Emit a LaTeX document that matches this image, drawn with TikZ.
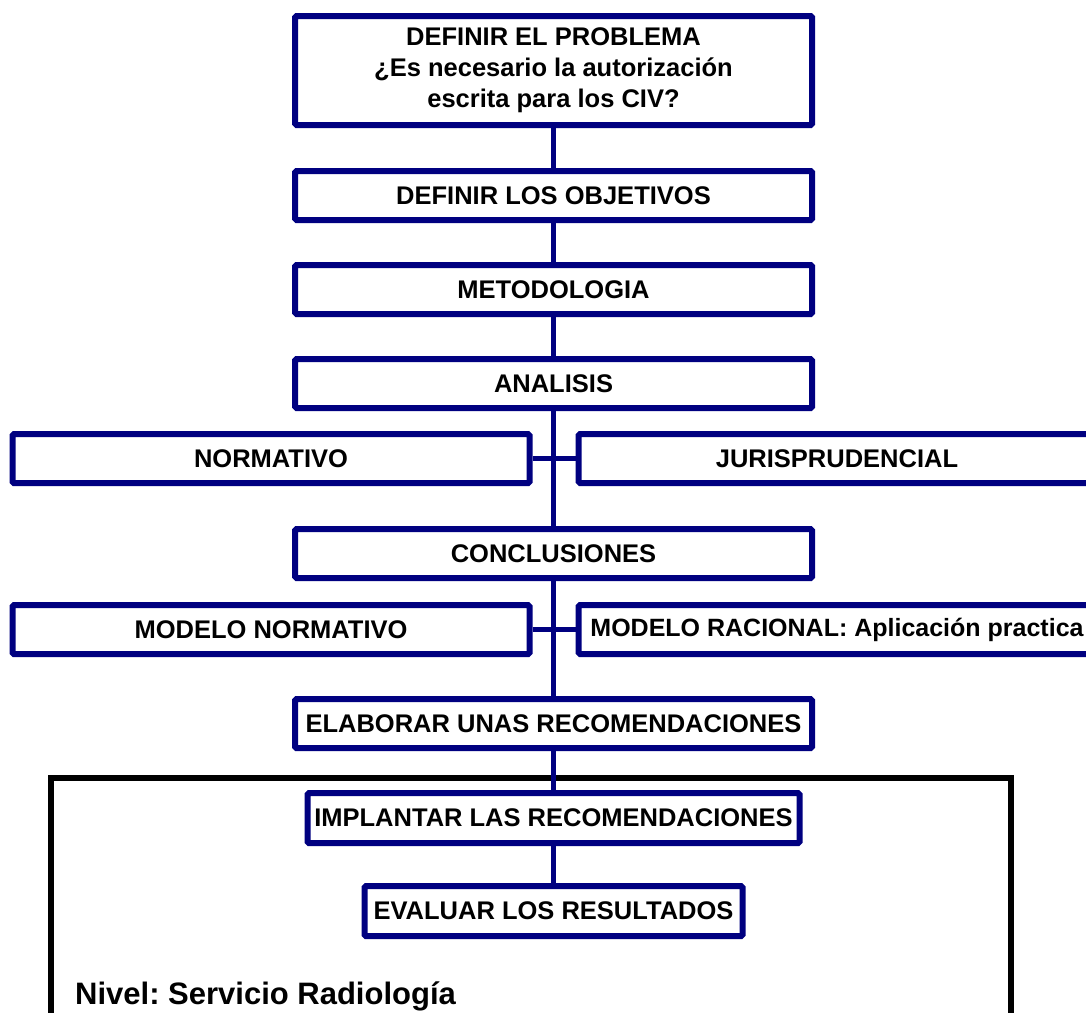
\documentclass[tikz,border=0pt]{standalone}
\usepackage{fontspec}
\setmainfont{Liberation Sans}
\usetikzlibrary{positioning}
\definecolor{boxnavy}{RGB}{0,0,128}
\frenchspacing

\begin{document}
\begin{tikzpicture}[x=1pt, y=1pt,
    stepbox/.style={draw=boxnavy, line width=6pt, rounded corners=1.5pt, fill=white, align=center,
        inner sep=0pt, minimum width=517pt, minimum height=49pt, font=\fontsize{25.5}{31}\selectfont\bfseries},
    link/.style={draw=boxnavy, line width=5pt},
    levelframe/.style={draw=black, line width=6pt}]
        % Page size and clipping
        \path[use as bounding box] (0,0) rectangle (1086,-1012);
        \clip (0,0) rectangle (1086,-1012);

        % Level frame (drawn first, behind the chain)
        \draw[levelframe] (51,-1040) rectangle (1011,-777.5);

        % Main chain
        \node[stepbox, minimum height=109pt] (problema) at (553.5,-70.5) {DEFINIR EL PROBLEMA\\¿Es necesario la autorización\\escrita para los CIV?};
        \node[stepbox, below=40pt of problema] (objetivos) {DEFINIR LOS OBJETIVOS};
        \node[stepbox, below=39pt of objetivos] (metodologia) {METODOLOGIA};
        \node[stepbox, below=39pt of metodologia] (analisis) {ANALISIS};

        % Analysis branches
        \node[stepbox, below left=20pt and 21pt of analisis.south] (normativo) {NORMATIVO};
        \node[stepbox, below right=20pt and 22pt of analisis.south] (jurisprudencial) {JURISPRUDENCIAL};

        \node[stepbox, below=115pt of analisis] (conclusiones) {CONCLUSIONES};

        % Model branches
        \node[stepbox, below left=21pt and 21pt of conclusiones.south] (modnormativo) {MODELO NORMATIVO};
        \node[stepbox, below right=21pt and 22pt of conclusiones.south, font=\fontsize{25}{31}\selectfont\bfseries] (modracional) {MODELO RACIONAL: Aplicación practica};

        \node[stepbox, below=115pt of conclusiones] (elaborar) {ELABORAR UNAS RECOMENDACIONES};

        % Inside the level frame
        \node[stepbox, minimum width=492pt, minimum height=50pt, below=39pt of elaborar] (implantar) {IMPLANTAR LAS RECOMENDACIONES};
        \node[stepbox, minimum width=378pt, minimum height=50pt, below=37pt of implantar] (evaluar) {EVALUAR LOS RESULTADOS};
        \node[anchor=base west, inner sep=0pt, font=\fontsize{31}{37}\selectfont\bfseries] (nivel) at (75,-1004) {Nivel: Servicio Radiología};

        % Connections down the chain
        \draw[link] (problema) -- (objetivos);
        \draw[link] (objetivos) -- (metodologia);
        \draw[link] (metodologia) -- (analisis);
        \draw[link] (analisis) -- (conclusiones);
        \draw[link] (conclusiones) -- (elaborar);
        \draw[link] (elaborar) -- (implantar);
        \draw[link] (implantar) -- (evaluar);

        % Cross ties of the branches
        \draw[link] (normativo) -- (jurisprudencial);
        \draw[link] (modnormativo) -- (modracional);
\end{tikzpicture}
\end{document}
